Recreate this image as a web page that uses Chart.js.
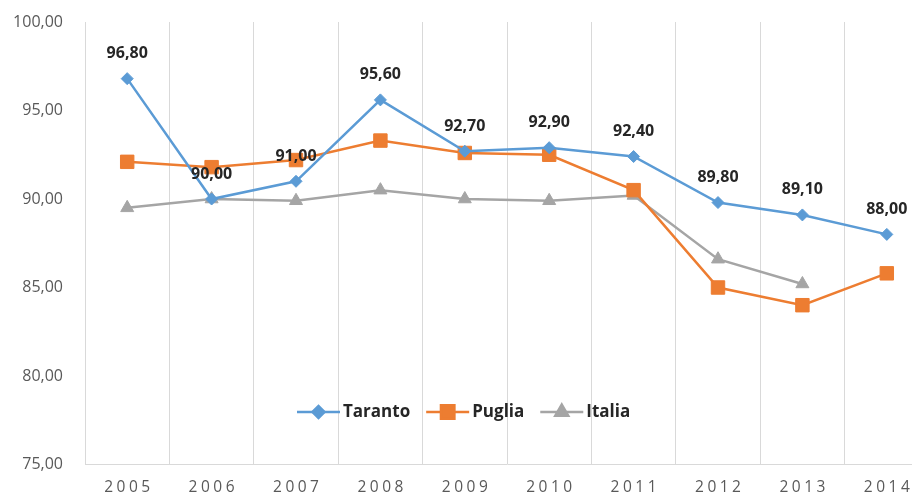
<!DOCTYPE html>
<html>
<head>
<meta charset="utf-8">
<script src="https://cdn.jsdelivr.net/npm/chart.js@4.4.1/dist/chart.umd.min.js"></script>
<style>
  html, body { margin: 0; padding: 0; background: #fff; overflow: hidden; }
  #wrap { width: 940px; height: 493px; }
</style>
</head>
<body>
<div id="wrap"><canvas id="chart" width="940" height="493"></canvas></div>
<script>
const years = ['2005', '2006', '2007', '2008', '2009', '2010', '2011', '2012', '2013', '2014'];
const taranto = [96.80, 90.00, 91.00, 95.60, 92.70, 92.90, 92.40, 89.80, 89.10, 88.00];
const puglia = [92.1, 91.8, 92.2, 93.3, 92.6, 92.5, 90.5, 85.0, 84.0, 85.8];
const italia = [89.5, 90.0, 89.9, 90.5, 90.0, 89.9, 90.2, 86.6, 85.2, null];
const yMin = 75, yMax = 100, yStep = 5;

const FONT = '"Open Sans", "Liberation Sans", sans-serif';

function fmt(v) {
  return v.toFixed(2).replace('.', ',');
}

// value labels above the Taranto points
const valueLabels = {
  id: 'valueLabels',
  afterDatasetsDraw(chart) {
    const ctx = chart.ctx;
    const meta = chart.getDatasetMeta(0);
    ctx.save();
    ctx.font = 'bold 16px ' + FONT;
    ctx.fillStyle = '#262626';
    ctx.textAlign = 'center';
    ctx.textBaseline = 'middle';
    meta.data.forEach((pt, i) => {
      ctx.fillText(fmt(taranto[i]), pt.x, pt.y - 25);
    });
    ctx.restore();
  }
};

// legend drawn inside the plot, line + marker style
const innerLegend = {
  id: 'innerLegend',
  afterDatasetsDraw(chart) {
    const ctx = chart.ctx;
    const y = 412;
    let x = 297;
    ctx.save();
    ctx.font = 'bold 17px ' + FONT;
    ctx.textBaseline = 'middle';
    ctx.textAlign = 'left';
    chart.data.datasets.forEach(ds => {
      ctx.strokeStyle = ds.borderColor;
      ctx.lineWidth = ds.borderWidth;
      ctx.beginPath();
      ctx.moveTo(x, y);
      ctx.lineTo(x + 43, y);
      ctx.stroke();
      ctx.fillStyle = ds.pointBackgroundColor;
      Chart.helpers.drawPoint(ctx, {
        pointStyle: ds.pointStyle,
        radius: ds.pointRadius,
        rotation: 0,
        borderWidth: 1
      }, x + 21.5, y);
      ctx.fillStyle = '#262626';
      ctx.fillText(ds.label, x + 46, y);
      x += 46 + ctx.measureText(ds.label).width + 16;
    });
    ctx.restore();
  }
};

// wider spacing between the year digits
const spacedYears = {
  id: 'spacedYears',
  afterLayout(chart) {
    const s = chart.scales.x;
    if (s._spaced) return;
    const orig = s.drawLabels.bind(s);
    s.drawLabels = (area) => {
      const ctx = chart.ctx;
      ctx.save();
      ctx.letterSpacing = '3.5px';
      ctx.translate(1.75, 0);
      orig(area);
      ctx.restore();
    };
    s._spaced = true;
  }
};

function series(label, data, color, style, radius) {
  return {
    label: label,
    data: data,
    borderColor: color,
    backgroundColor: color,
    pointBackgroundColor: color,
    pointBorderColor: color,
    borderWidth: 2.5,
    pointStyle: style,
    pointRadius: radius,
    pointHoverRadius: radius,
    pointBorderWidth: 1,
    tension: 0,
    spanGaps: false
  };
}

new Chart(document.getElementById('chart'), {
  type: 'line',
  data: {
    labels: years,
    datasets: [
      series('Taranto', taranto, '#5B9BD5', 'rectRot', 6),
      series('Puglia', puglia, '#ED7D31', 'rect', 9.5),
      series('Italia', italia, '#A5A5A5', 'triangle', 7.5)
    ]
  },
  options: {
    responsive: false,
    animation: false,
    layout: { padding: { left: 0, top: 22, right: 11, bottom: 0 } },
    plugins: {
      legend: { display: false },
      tooltip: { enabled: false }
    },
    scales: {
      x: {
        offset: true,
        grid: { display: true, offset: true, color: '#D9D9D9', lineWidth: 1, drawTicks: false },
        border: { display: true, color: '#D9D9D9', width: 1 },
        ticks: { color: '#595959', font: { family: FONT, size: 15.5 }, padding: 14, maxRotation: 0 },
        afterFit(scale) {
          scale.height = 28.5;
          scale.paddingLeft = 0;
          scale.paddingRight = 0;
        }
      },
      y: {
        min: yMin,
        max: yMax,
        grid: { display: false, drawTicks: false },
        border: { display: false },
        ticks: {
          stepSize: yStep,
          color: '#595959',
          font: { family: FONT, size: 16 },
          padding: 22,
          callback: v => fmt(v)
        },
        afterFit(scale) {
          scale.width = 85;
          scale.paddingTop = 0;
          scale.paddingBottom = 0;
        }
      }
    }
  },
  plugins: [valueLabels, innerLegend, spacedYears]
});
</script>
</body>
</html>
